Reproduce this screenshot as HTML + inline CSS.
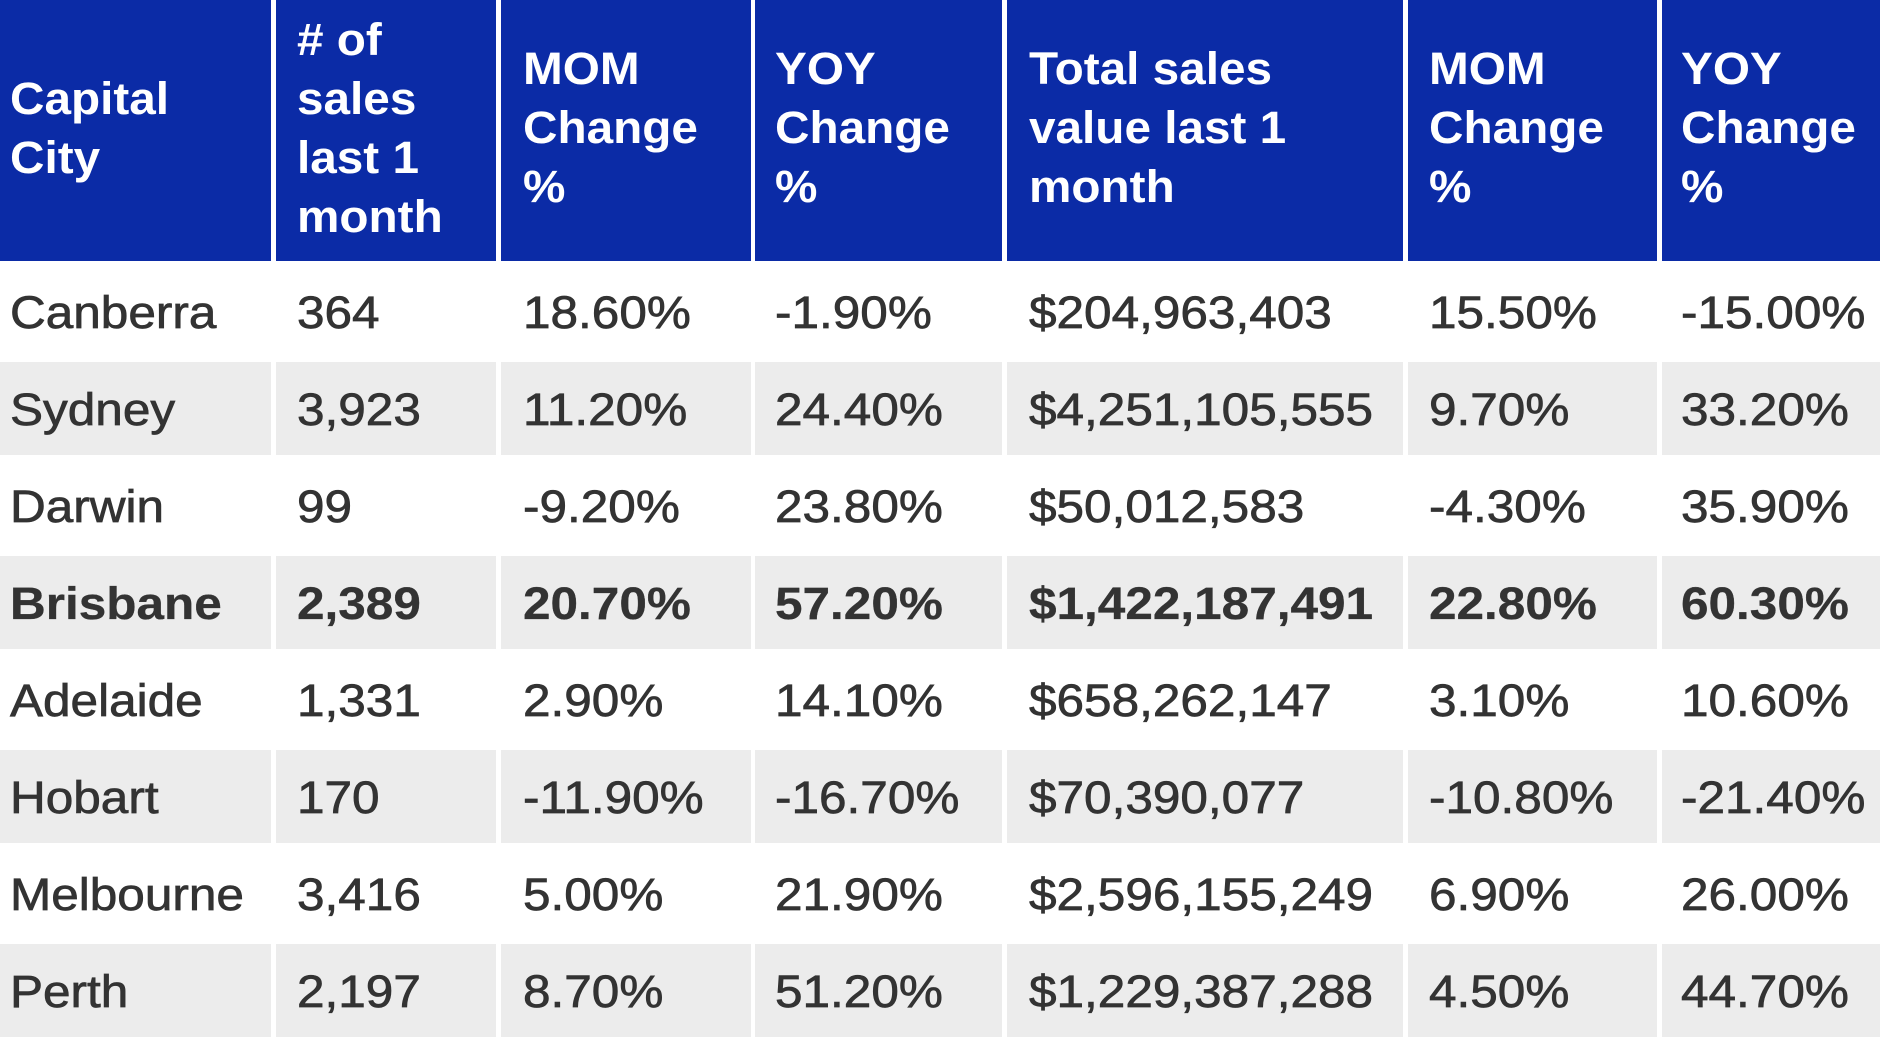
<!DOCTYPE html>
<html><head><meta charset="utf-8"><style>
*{margin:0;padding:0;box-sizing:border-box}
html,body{width:1880px;height:1058px;background:#fff;overflow:hidden;font-family:"Liberation Sans",Arial,sans-serif}
.hdr{position:absolute;left:0;top:0;width:1880px;height:261px;display:flex}
.row{position:absolute;left:0;width:1880px;height:93px;display:flex}
.cell{height:100%;display:flex;align-items:center;flex:none;white-space:nowrap}
.hdr .cell{background:#0b2ba6;color:#fff;font-weight:bold;font-size:45px;line-height:59px;padding-bottom:6px}
.row .cell{font-size:45px;color:#333;-webkit-text-stroke:0.7px #333;padding-top:3px}
.cell span{display:block;transform:scaleX(1.1);transform-origin:left center}
.hdr .cell span{transform:scaleX(1.06)}
.g .cell{background:#ececec}
.b .cell{font-weight:bold;-webkit-text-stroke:0.3px #333}
.w1{width:271px;margin-right:5px;padding-left:10px}
.w2{width:220px;margin-right:5px;padding-left:21px}
.w3{width:250px;margin-right:4px;padding-left:22px}
.w4{width:247px;margin-right:5px;padding-left:20px}
.w5{width:396px;margin-right:5px;padding-left:22px}
.w6{width:249px;margin-right:5px;padding-left:21px}
.w7{width:218px;padding-left:19px}
</style></head><body>
<div class="hdr">
<div class="cell w1"><span>Capital<br>City</span></div>
<div class="cell w2"><span># of<br>sales<br>last 1<br>month</span></div>
<div class="cell w3"><span>MOM<br>Change<br>%</span></div>
<div class="cell w4"><span>YOY<br>Change<br>%</span></div>
<div class="cell w5"><span>Total sales<br>value last 1<br>month</span></div>
<div class="cell w6"><span>MOM<br>Change<br>%</span></div>
<div class="cell w7"><span>YOY<br>Change<br>%</span></div>
</div>
<div class="row" style="top:265px"><div class="cell w1"><span>Canberra</span></div><div class="cell w2"><span>364</span></div><div class="cell w3"><span>18.60%</span></div><div class="cell w4"><span>-1.90%</span></div><div class="cell w5"><span>$204,963,403</span></div><div class="cell w6"><span>15.50%</span></div><div class="cell w7"><span>-15.00%</span></div></div>
<div class="row g" style="top:362px"><div class="cell w1"><span>Sydney</span></div><div class="cell w2"><span>3,923</span></div><div class="cell w3"><span>11.20%</span></div><div class="cell w4"><span>24.40%</span></div><div class="cell w5"><span>$4,251,105,555</span></div><div class="cell w6"><span>9.70%</span></div><div class="cell w7"><span>33.20%</span></div></div>
<div class="row" style="top:459px"><div class="cell w1"><span>Darwin</span></div><div class="cell w2"><span>99</span></div><div class="cell w3"><span>-9.20%</span></div><div class="cell w4"><span>23.80%</span></div><div class="cell w5"><span>$50,012,583</span></div><div class="cell w6"><span>-4.30%</span></div><div class="cell w7"><span>35.90%</span></div></div>
<div class="row g b" style="top:556px"><div class="cell w1"><span>Brisbane</span></div><div class="cell w2"><span>2,389</span></div><div class="cell w3"><span>20.70%</span></div><div class="cell w4"><span>57.20%</span></div><div class="cell w5"><span>$1,422,187,491</span></div><div class="cell w6"><span>22.80%</span></div><div class="cell w7"><span>60.30%</span></div></div>
<div class="row" style="top:653px"><div class="cell w1"><span>Adelaide</span></div><div class="cell w2"><span>1,331</span></div><div class="cell w3"><span>2.90%</span></div><div class="cell w4"><span>14.10%</span></div><div class="cell w5"><span>$658,262,147</span></div><div class="cell w6"><span>3.10%</span></div><div class="cell w7"><span>10.60%</span></div></div>
<div class="row g" style="top:750px"><div class="cell w1"><span>Hobart</span></div><div class="cell w2"><span>170</span></div><div class="cell w3"><span>-11.90%</span></div><div class="cell w4"><span>-16.70%</span></div><div class="cell w5"><span>$70,390,077</span></div><div class="cell w6"><span>-10.80%</span></div><div class="cell w7"><span>-21.40%</span></div></div>
<div class="row" style="top:847px"><div class="cell w1"><span>Melbourne</span></div><div class="cell w2"><span>3,416</span></div><div class="cell w3"><span>5.00%</span></div><div class="cell w4"><span>21.90%</span></div><div class="cell w5"><span>$2,596,155,249</span></div><div class="cell w6"><span>6.90%</span></div><div class="cell w7"><span>26.00%</span></div></div>
<div class="row g" style="top:944px"><div class="cell w1"><span>Perth</span></div><div class="cell w2"><span>2,197</span></div><div class="cell w3"><span>8.70%</span></div><div class="cell w4"><span>51.20%</span></div><div class="cell w5"><span>$1,229,387,288</span></div><div class="cell w6"><span>4.50%</span></div><div class="cell w7"><span>44.70%</span></div></div>
</body></html>
